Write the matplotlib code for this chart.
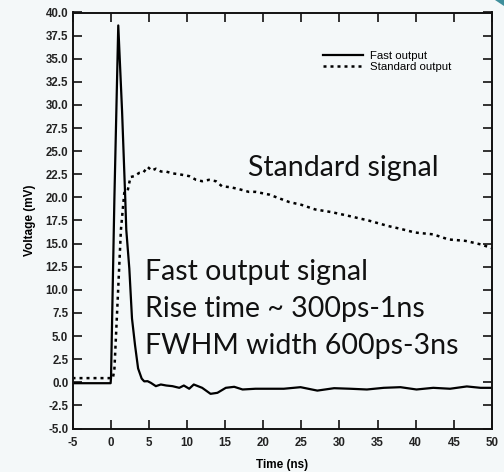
import matplotlib
matplotlib.use("Agg")
import matplotlib.pyplot as plt
from matplotlib.patches import Polygon

# Fast output trace (time in ns, voltage in mV)
fast_t = [-5.0, -2.0, 0.0, 0.05, 0.49, 1.0, 1.5, 1.92, 2.05, 2.45, 2.8, 3.2, 3.6,
          4.07, 4.4, 4.84, 5.27, 5.93, 6.58, 7.3, 8.1, 9.0, 9.6, 10.3, 10.9,
          12.0, 13.1, 14.0, 15.1, 16.2, 17.3, 19.0, 20.8, 22.7, 24.9, 27.1,
          29.3, 31.4, 33.6, 35.8, 38.0, 40.1, 42.3, 44.5, 46.7, 48.5, 50.0]
fast_v = [-0.1, -0.1, -0.1, 0.5, 19.8, 38.6, 29.3, 19.8, 16.5, 12.3, 6.9, 4.0, 1.5,
          0.4, 0.1, 0.12, -0.06, -0.42, -0.24, -0.35, -0.42, -0.6, -0.35, -0.7, -0.24,
          -0.6, -1.25, -1.14, -0.6, -0.49, -0.78, -0.7, -0.7, -0.7, -0.53, -0.9,
          -0.64, -0.7, -0.78, -0.6, -0.53, -0.78, -0.6, -0.7, -0.45, -0.6, -0.6]

# Standard output trace
std_t = [-5.0, 0.3, 0.5, 0.9, 1.35, 1.79, 2.2, 2.6, 3.1, 3.75, 4.3, 4.84, 5.4,
         5.93, 6.6, 7.24, 8.1, 9.0, 10.3, 11.2, 12.0, 12.9, 13.8, 14.6, 15.7,
         16.8, 18.1, 19.0, 20.8, 23.4, 25.0, 26.8, 29.0, 31.2, 33.8, 36.4, 38.0,
         39.9, 42.3, 44.3, 46.5, 48.6, 50.0]
std_v = [0.45, 0.45, 1.5, 8.5, 16.5, 20.5, 20.6, 22.2, 22.3, 22.65, 22.7, 23.3, 22.9,
         23.1, 22.8, 22.8, 22.6, 22.5, 22.3, 21.9, 21.75, 21.9, 21.75, 21.2, 21.1,
         20.9, 20.6, 20.6, 20.3, 19.5, 19.2, 18.7, 18.4, 18.0, 17.5, 16.9, 16.6,
         16.2, 16.0, 15.45, 15.3, 14.9, 14.5]

x_ticks = [-5, 0, 5, 10, 15, 20, 25, 30, 35, 40, 45, 50]
y_ticks = [-5.0, -2.5, 0.0, 2.5, 5.0, 7.5, 10.0, 12.5, 15.0, 17.5, 20.0, 22.5,
           25.0, 27.5, 30.0, 32.5, 35.0, 37.5, 40.0]

notes_main = ["Fast output signal", "Rise time ~ 300ps-1ns", "FWHM width 600ps-3ns"]
note_std = "Standard signal"

bg = "#f4f8f9"
fig = plt.figure(figsize=(5.04, 4.72), dpi=100, facecolor=bg)
ax = fig.add_axes([72.5 / 504, (472 - 428.5) / 472, (492 - 72.5) / 504, (428.5 - 12.5) / 472])
ax.set_facecolor(bg)

ax.plot(fast_t, fast_v, color="black", lw=1.6, label="Fast output")
ax.plot(std_t, std_v, color="black", lw=1.8, linestyle=(0, (1.2, 1.6)), label="Standard output")

ax.set_xlim(-5, 50)
ax.set_ylim(-5, 40)
ax.set_xticks(x_ticks)
ax.set_xticklabels([str(t) for t in x_ticks])
ax.set_yticks(y_ticks)
ax.set_yticklabels([f"{t:.1f}" for t in y_ticks])

for lab in ax.get_xticklabels() + ax.get_yticklabels():
    lab.set_fontfamily("Liberation Sans")
    lab.set_fontsize(8.3)
    lab.set_fontweight("bold")
    lab.set_color("#222222")

ax.tick_params(axis="both", direction="in", top=True, right=True,
               length=6.5, width=1.2, color="#111111")
ax.tick_params(axis="x", pad=6)
ax.tick_params(axis="y", pad=3)

for s in ax.spines.values():
    s.set_linewidth(1.4)
    s.set_color("#111111")

ax.set_xlabel("Time (ns)", family="Liberation Sans", weight="bold", size=8.5, labelpad=7)
ax.set_ylabel("Voltage (mV)", family="Liberation Sans", weight="bold", size=8.5, labelpad=7)

leg = ax.legend(loc="upper left", bbox_to_anchor=(0.597, 0.907), frameon=False,
                borderpad=0, borderaxespad=0,
                prop=dict(family="Liberation Sans", size=8.2), handlelength=3.5,
                handletextpad=0.65, labelspacing=0.1)

ax.text(18.0, 22.3, note_std, family="Lato", fontsize=20.5, color="#111111", va="baseline")
for i, line in enumerate(notes_main):
    ax.text(4.5, 11.1 - 4.0 * i, line, family="Lato", fontsize=20.5,
            color="#111111", va="baseline")

# small teal corner accent
fig.patches.append(Polygon([[495 / 504, 1.0], [1.0, 1.0], [1.0, 1 - 6 / 472]],
                           closed=True, transform=fig.transFigure,
                           facecolor="#3f8f9c", edgecolor="none"))

fig.savefig("out.png", dpi=100, facecolor=bg)
